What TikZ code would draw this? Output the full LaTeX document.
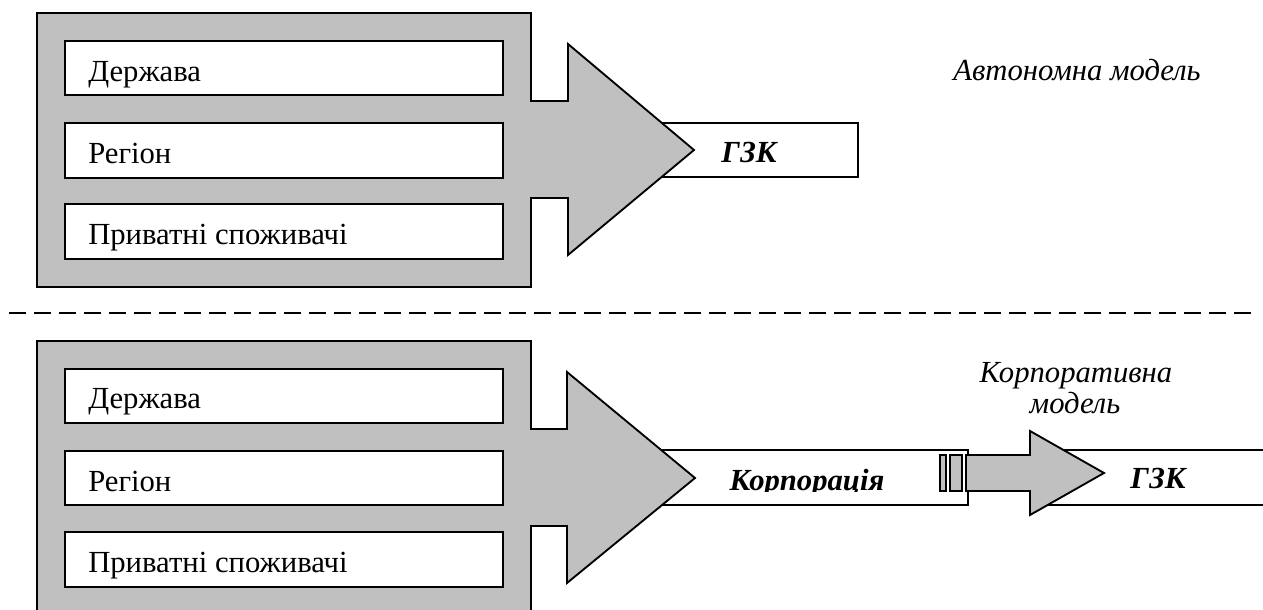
\documentclass[tikz,border=0pt]{standalone}
\usepackage{fontspec}
\setmainfont{Liberation Serif}
\definecolor{panel}{RGB}{192,192,192}
\tikzset{
  shapeline/.style={draw=black, line width=1.4pt, line join=miter},
  grayfill/.style={shapeline, fill=panel},
  wbox/.style={draw=black, fill=white, line width=1.4pt, inner sep=0pt, minimum height=41pt},
  lbl/.style={inner sep=0pt, anchor=base west, font=\fontsize{23}{27}\selectfont},
  ital/.style={inner sep=0pt, anchor=base, font=\fontsize{23}{27}\selectfont\itshape},
  bital/.style={inner sep=0pt, anchor=base, font=\fontsize{23}{27}\selectfont\bfseries\itshape},
  divider/.style={line width=1.6pt, dash pattern=on 12.75pt off 6pt},
}
\begin{document}
\begin{tikzpicture}[x=0.75pt,y=-0.75pt]
\useasboundingbox (0,0) rectangle (1263,610);
\clip (0,0) rectangle (1263,610);

% ---------- top: autonomous model ----------
\node[wbox, minimum width=163.5pt] (gzkA) at (749,150) {};
\draw[grayfill] (37,13) -- (531,13) -- (531,101) -- (568,101) -- (568,44) -- (694,150)
  -- (568,255) -- (568,198) -- (531,198) -- (531,287) -- (37,287) -- cycle;
\node[wbox, minimum width=328.5pt] (stateA)  at (284,68) {};
\node[wbox, minimum width=328.5pt] (regionA) at (284,150.5) {};
\node[wbox, minimum width=328.5pt] (privA)   at (284,231.5) {};
\node[lbl] (tStateA)  at (88,81)  {Держава};
\node[lbl] (tRegionA) at (88,163) {Регіон};
\node[lbl] (tPrivA)   at (88,244) {Приватні споживачі};
\node[bital] (tGzkA) at (749,162) {ГЗК};
\node[ital] (autoLbl) at (1077,80) {Автономна модель};

% ---------- divider ----------
\coordinate (dl) at (9,313);
\coordinate (dr) at (1256,313);
\draw[divider] (dl) -- (dr);

% ---------- bottom: corporate model ----------
\node[wbox, minimum width=246pt] (corpBox) at (804,477.5) {};
\node[wbox, minimum width=172.5pt] (gzkB) at (1160,477.5) {};
\draw[grayfill] (37,341) -- (531,341) -- (531,429) -- (567,429) -- (567,372) -- (695,478)
  -- (567,583) -- (567,526) -- (531,526) -- (531,625) -- (37,625) -- cycle;
\node[wbox, minimum width=328.5pt] (stateB)  at (284,396) {};
\node[wbox, minimum width=328.5pt] (regionB) at (284,478) {};
\node[wbox, minimum width=328.5pt] (privB)   at (284,559.5) {};
\node[lbl] (tStateB)  at (88,408) {Держава};
\node[lbl] (tRegionB) at (88,491) {Регіон};
\node[lbl] (tPrivB)   at (88,572) {Приватні споживачі};

% striped arrow
\draw[grayfill] (966,455) -- (1030,455) -- (1030,431) -- (1104,473) -- (1030,515)
  -- (1030,491) -- (966,491) -- cycle;
\draw[grayfill] (940,455) rectangle (946,491);
\draw[grayfill] (950,455) rectangle (962,491);

\begin{scope}
  \clip (645,451) rectangle (960,491);
  \node[bital] (tCorp) at (807,490) {Корпорація};
\end{scope}
\node[bital] (tGzkB) at (1158,488) {ГЗК};
\node[ital] (corpLbl1) at (1076,382) {Корпоративна};
\node[ital] (corpLbl2) at (1075,413) {модель};
\end{tikzpicture}
\end{document}
